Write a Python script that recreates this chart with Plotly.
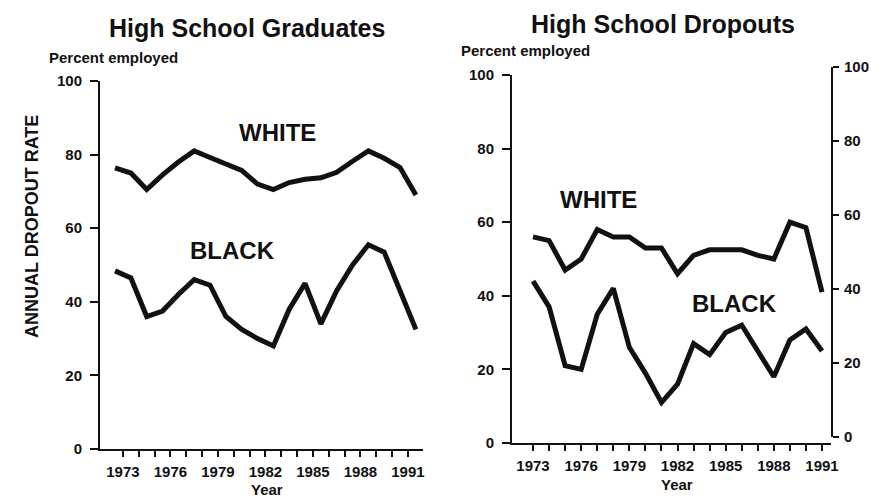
import plotly.graph_objects as go

# ---------------- data ----------------
# High school graduates (annual values, drawn at mid-year as in the original)
grad_years = list(range(1972, 1992))
grad_white = [76.4, 75, 70.5, 74.5, 78, 81, 79.2, 77.5, 75.7, 72, 70.5, 72.4, 73.3, 73.7, 75.2, 78.2, 81, 79, 76.5, 69]
grad_black = [48.4, 46.5, 36, 37.5, 42, 46, 44.5, 36, 32.5, 30, 28, 38, 45, 34, 43, 50, 55.5, 53.5, 43, 32.5]

# High school dropouts
drop_years = list(range(1973, 1992))
drop_white = [56, 55, 47, 50, 58, 56, 56, 53, 53, 46, 51, 52.5, 52.5, 52.5, 51, 50, 60, 58.5, 41]
drop_black = [44, 37, 21, 20, 35, 42, 26, 19, 11, 16, 27, 24, 30, 32, 25, 18, 28, 31, 25]

tick_years = list(range(1973, 1992))
tick_text = [str(y) if (y - 1973) % 3 == 0 else "" for y in tick_years]
y_ticks = [0, 20, 40, 60, 80, 100]

# ---------------- figure ----------------
W, H = 871, 499
FONT = "Liberation Sans, Arial, Helvetica, sans-serif"
INK = "#111111"


def px(x):
    return x / W


def py(y):
    return 1 - y / H


fig = go.Figure()
line_style = dict(color=INK, width=5)
# invisible helper so the right-hand axis of the dropout panel is drawn
fig.add_trace(go.Scatter(x=drop_years, y=drop_black, mode="lines", opacity=0,
                         line=dict(width=0), xaxis="x2", yaxis="y3",
                         hoverinfo="skip", name="right axis"))
fig.add_trace(go.Scatter(x=[y + 0.5 for y in grad_years], y=grad_white, mode="lines",
                         line=line_style, xaxis="x", yaxis="y", name="White graduates"))
fig.add_trace(go.Scatter(x=[y + 0.5 for y in grad_years], y=grad_black, mode="lines",
                         line=line_style, xaxis="x", yaxis="y", name="Black graduates"))
fig.add_trace(go.Scatter(x=drop_years, y=drop_white, mode="lines",
                         line=line_style, xaxis="x2", yaxis="y2", name="White dropouts"))
fig.add_trace(go.Scatter(x=drop_years, y=drop_black, mode="lines",
                         line=line_style, xaxis="x2", yaxis="y2", name="Black dropouts"))

tickfont = dict(family=FONT, size=15, color=INK, weight="bold")
common_x = dict(showline=True, linewidth=2, linecolor=INK, ticks="outside", ticklen=6,
                tickwidth=2, tickcolor=INK, tickvals=tick_years, ticktext=tick_text,
                tickfont=tickfont, showgrid=False, zeroline=False, ticklabelstandoff=2)
common_y = dict(showline=True, linewidth=2, linecolor=INK, ticks="outside",
                tickwidth=2, tickcolor=INK, tickvals=y_ticks, tickfont=tickfont,
                showgrid=False, zeroline=False)

fig.update_layout(
    width=W, height=H,
    margin=dict(l=0, r=0, t=0, b=0, autoexpand=False),
    paper_bgcolor="white", plot_bgcolor="rgba(0,0,0,0)",
    showlegend=False,
    xaxis=dict(domain=[px(100), px(423)], range=[1971.55, 1991.95], anchor="y", **common_x),
    yaxis=dict(domain=[py(449), py(81)], range=[0, 100], anchor="x",
               ticklen=8, ticklabelstandoff=5, **common_y),
    xaxis2=dict(domain=[px(512), px(831)], range=[1971.69, 1991.56], anchor="y2", **common_x),
    yaxis2=dict(domain=[py(443), py(75)], range=[0, 100], anchor="x2",
                ticklen=8, ticklabelstandoff=5, **common_y),
    yaxis3=dict(domain=[py(437), py(67)], side="right", anchor="x2", range=[0, 100],
                ticklen=6, ticklabelstandoff=2, **common_y),
)

annos = [
    ("High School Graduates", 247, 28, 25, "center", 0),
    ("High School Dropouts", 663, 24, 25, "center", 0),
    ("Percent employed", 47, 57, 15, "left", 0),
    ("Percent employed", 459, 51, 15, "left", 0),
    ("WHITE", 277, 133, 24, "center", 0),
    ("BLACK", 232, 251, 24, "center", 0),
    ("WHITE", 598, 199, 24, "center", 0),
    ("BLACK", 734, 303, 24, "center", 0),
    ("ANNUAL DROPOUT RATE", 32, 227, 18, "center", -90),
    ("Year", 267, 489, 15, "center", 0),
    ("Year", 677, 484, 15, "center", 0),
]
for text, x, y, size, xa, ang in annos:
    fig.add_annotation(text=text, x=px(x), y=py(y), xref="paper", yref="paper",
                       xanchor=xa, yanchor="middle", showarrow=False, textangle=ang,
                       font=dict(family=FONT, size=size, color=INK, weight="bold"))

fig.write_html("out.html", config={"displayModeBar": False},
               post_script="document.body.style.margin='0';document.body.style.overflow='hidden';")
